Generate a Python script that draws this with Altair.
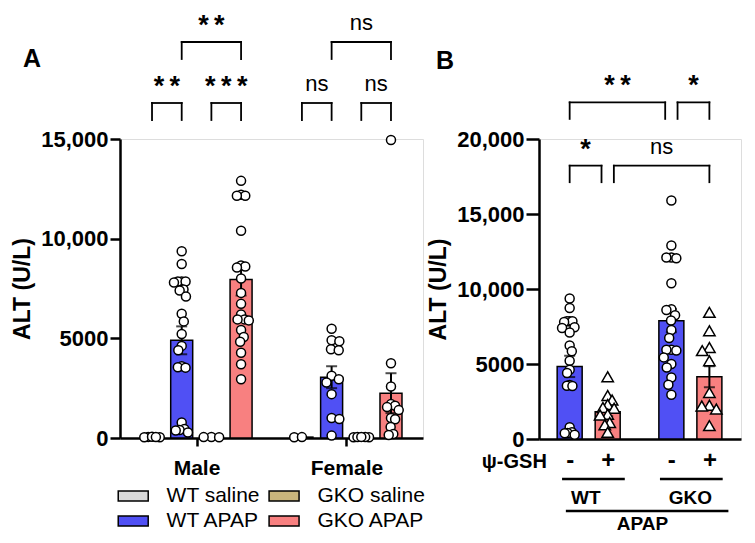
import math
import altair as alt
import pandas as pd

FONT = "Liberation Sans"

# ---------------- data ----------------
# Panel A: ALT (U/L) per animal
male_wt_saline = [55, 40, 60, 35, 45]
male_wt_apap = [9370, 8730, 7850, 7850, 7850, 7800, 7450, 7400, 7100, 6230, 5850,
                5220, 4620, 4400, 3600, 3550, 3530, 780, 450, 400, 380, 280]
male_gko_saline = [50, 40, 45]
male_gko_apap = [12900, 12200, 12150, 12150, 10400, 8650, 8600, 8550, 8000, 7280, 6730,
                 6200, 5950, 5950, 5900, 5420, 5070, 4830, 4280, 3700, 2950]
female_wt_saline = [40, 45]
female_wt_apap = [5480, 4900, 4850, 4450, 4400, 3120, 2950, 2780, 2200, 1000, 950, 120]
female_gko_saline = [40, 50, 35, 45, 55]
female_gko_apap = [14950, 3750, 2580, 1700, 1620, 1550, 1400, 1000, 940, 550, 200, 150]

a_groups = ["WT saline", "WT APAP", "GKO saline", "GKO APAP"]
a_sexes = ["Male", "Female"]
a_mean = [45, 4900, 45, 7950, 45, 3050, 45, 2250]
a_sem = [0, 700, 0, 800, 0, 550, 0, 1000]
a_points = [male_wt_saline, male_wt_apap, male_gko_saline, male_gko_apap,
            female_wt_saline, female_wt_apap, female_gko_saline, female_gko_apap]

# Panel B
b_wt_minus = [9370, 8730, 7850, 7850, 7850, 7800, 7450, 7400, 7100, 6230, 5850,
              5220, 4620, 4400, 3600, 3550, 3530, 780, 450, 400, 380, 280]
b_wt_plus = [4150, 2900, 2600, 2300, 2100, 2050, 1650, 1600, 1100, 950, 450]
b_gko_minus = [15900, 12900, 12100, 12100, 12050, 10380, 8650, 8600, 8250, 7900, 7270,
               6730, 5950, 5950, 5900, 5440, 5000, 4770, 4100, 3620, 2950]
b_gko_plus = [8440, 7220, 6100, 5890, 5220, 3100, 2250, 2200, 2000, 890]
b_geno = ["WT", "WT", "GKO", "GKO"]
b_gsh = ["-", "+", "-", "+"]
b_mean = [4840, 1820, 7890, 4150]
b_sem = [710, 300, 770, 700]
b_points = [b_wt_minus, b_wt_plus, b_gko_minus, b_gko_plus]

# significance labels
a_sig_lower = ["**", "***", "ns", "ns"]
a_sig_upper = ["**", "ns"]
b_sig_lower = ["*", "ns"]
b_sig_upper = ["**", "*"]

# ---------------- layout (category positions on a numeric axis) ----------------
A_X = [1, 2, 3, 4, 6.05, 7.05, 8.05, 9.05]
A_XDOM = [0.09, 9.96]
A_W, A_H = 303, 299
A_YDOM = [0, 15000]
B_X = [1, 2, 3.675, 4.675]
B_XDOM = [0.325, 5.375]
B_W, B_H = 202, 300
B_YDOM = [0, 20000]

COL = {"WT saline": "#D9D9D9", "GKO saline": "#C9B57C",
       "WT APAP": "#5050F4", "GKO APAP": "#F88080"}
LEG_ORDER = ["WT saline", "WT APAP", "GKO saline", "GKO APAP"]   # column-wise
THIN = "\u2009"


def swarm(values, ypx, D=9.0, maxw=8.0):
    """Deterministic beeswarm offsets in pixels."""
    n = len(values)
    order = sorted(range(n), key=lambda i: -values[i])
    placed = []
    offs = [0.0] * n
    for k, i in enumerate(order):
        y = values[i] * ypx
        cands = [0.0]
        for (px_, py_) in placed:
            dy = abs(py_ - y)
            if dy < D:
                dx = math.sqrt(D * D - dy * dy)
                cands += [px_ + dx, px_ - dx]
        cands.sort(key=lambda c: (round(abs(c), 6), c if k % 2 else -c))
        best = 0.0
        for c in cands:
            if all((c - px_) ** 2 + (y - py_) ** 2 >= D * D - 1e-6 for px_, py_ in placed):
                best = c
                break
        offs[i] = best
        placed.append((best, y))
    m = max(abs(o) for o in offs) if offs else 0
    if m > maxw:
        offs = [o * maxw / m for o in offs]
    return offs


def points_df(centers, groups, xpx, ypx):
    rows = []
    for c, vals in zip(centers, groups):
        offs = swarm(vals, ypx)
        for v, o in zip(vals, offs):
            rows.append({"x": c + o / xpx, "v": v})
    return pd.DataFrame(rows)


LABEL_EXPR = "datum.value >= 10000 ? format(datum.value, ',') : format(datum.value, 'd')"


def bracket_layers(brk, leg, XF, YF):
    h = pd.DataFrame([{"x1": a, "x2": b, "top": t} for a, b, t, _ in brk])
    legs = pd.DataFrame([{"x": xx, "top": t, "bot": t - leg} for a, b, t, _ in brk for xx in (a, b)])
    stars = pd.DataFrame([{"x": (a + b) / 2, "top": t, "lab": THIN.join(l)} for a, b, t, l in brk if l != "ns"])
    ns = pd.DataFrame([{"x": (a + b) / 2, "top": t, "lab": l} for a, b, t, l in brk if l == "ns"])
    layers = [
        alt.Chart(h).mark_rule(color="black", strokeWidth=1.8, strokeCap="square").encode(
            x=XF("x1"), x2="x2", y=YF("top")),
        alt.Chart(legs).mark_rule(color="black", strokeWidth=1.8, strokeCap="square").encode(
            x=XF("x"), y=YF("top"), y2="bot"),
        alt.Chart(stars).mark_text(font=FONT, fontSize=27, fontWeight="bold", color="black",
                                   baseline="alphabetic", dy=-8).encode(x=XF("x"), y=YF("top"), text="lab:N"),
    ]
    if len(ns):
        layers.append(alt.Chart(ns).mark_text(font=FONT, fontSize=22, color="black",
                                              baseline="alphabetic", dy=-12).encode(
            x=XF("x"), y=YF("top"), text="lab:N"))
    return layers


# ---------------- Panel A ----------------
a_xpx = A_W / (A_XDOM[1] - A_XDOM[0])
a_ypx = A_H / (A_YDOM[1] - A_YDOM[0])
a_vpp = 1 / a_ypx  # value per pixel

xsA = alt.Scale(domain=A_XDOM, nice=False, zero=False)
ysA = alt.Scale(domain=A_YDOM, nice=False, zero=False)
xaxA = alt.Axis(values=[2.5, 7.55], labelExpr="datum.value < 5 ? 'Male' : 'Female'",
                title=None, tickSize=8, tickWidth=2.5, domainWidth=2.5,
                labelFont=FONT, labelFontSize=21, labelFontWeight="bold", labelPadding=11,
                labelColor="black", domainColor="black", tickColor="black", grid=False,
                labelFlush=False, labelOverlap=False)
yaxA = alt.Axis(values=[0, 5000, 10000, 15000], labelExpr=LABEL_EXPR, title="ALT (U/L)",
                tickSize=10, tickWidth=2.5, domainWidth=2.5, labelFont=FONT,
                labelFontSize=22, labelFontWeight="bold", labelPadding=2,
                labelColor="black", domainColor="black", tickColor="black",
                titleFont=FONT, titleFontSize=23, titleFontWeight="bold", titleColor="black",
                titlePadding=6, grid=False, labelFlush=False)


def XA(f):
    return alt.X(f, type="quantitative", scale=xsA, axis=xaxA)


def YA(f):
    return alt.Y(f, type="quantitative", scale=ysA, axis=yaxA)


colorA = alt.Color("group:N", scale=alt.Scale(domain=LEG_ORDER, range=[COL[g] for g in LEG_ORDER]),
                   legend=None)

bars_a = pd.DataFrame({"x": A_X, "group": a_groups * 2, "mean": a_mean,
                       "lo": [m - s for m, s in zip(a_mean, a_sem)],
                       "hi": [m + s for m, s in zip(a_mean, a_sem)], "sem": a_sem})
err_a = bars_a[bars_a["sem"] > 0]
pts_a = points_df(A_X, a_points, a_xpx, a_ypx)

barA = alt.Chart(bars_a).mark_bar(size=22, stroke="black", strokeWidth=1.5, opacity=1).encode(
    x=XA("x"), y=YA("mean"), color=colorA)
errA = alt.Chart(err_a).mark_rule(color="black", strokeWidth=2).encode(x=XA("x"), y=YA("lo"), y2="hi")
capA_hi = alt.Chart(err_a).mark_tick(color="black", orient="horizontal", size=11, thickness=2).encode(
    x=XA("x"), y=YA("hi"))
capA_lo = alt.Chart(err_a).mark_tick(color="black", orient="horizontal", size=11, thickness=2).encode(
    x=XA("x"), y=YA("lo"))
ptsA = alt.Chart(pts_a).mark_point(shape="circle", filled=True, fill="white", stroke="black",
                                   strokeWidth=1.5, size=81, opacity=1).encode(x=XA("x"), y=YA("v"))

a_low_top = (439 - 104) * a_vpp
a_up_top = (439 - 43) * a_vpp
leg_a = 17 * a_vpp
a_brk = [
    (A_X[0], A_X[1], a_low_top, a_sig_lower[0]),
    (A_X[2], A_X[3], a_low_top, a_sig_lower[1]),
    (A_X[4], A_X[5], a_low_top, a_sig_lower[2]),
    (A_X[6], A_X[7], a_low_top, a_sig_lower[3]),
    (A_X[1], A_X[3], a_up_top, a_sig_upper[0]),
    (A_X[5], A_X[7], a_up_top, a_sig_upper[1]),
]

# legend (drawn as marks below panel A): 2 columns x 2 rows
leg_rows = []
for k, g in enumerate(LEG_ORDER):
    col, row = k // 2, k % 2
    left_px = -7 + col * 156
    mid_px = 58 + row * 25
    leg_rows.append({"group": g,
                     "x1": A_XDOM[0] + left_px / a_xpx, "x2": A_XDOM[0] + (left_px + 31) / a_xpx,
                     "y1": -(mid_px - 5) * a_vpp, "y2": -(mid_px + 5) * a_vpp,
                     "tx": A_XDOM[0] + (left_px + 50) / a_xpx, "ty": -mid_px * a_vpp})
leg_df = pd.DataFrame(leg_rows)
legRect = alt.Chart(leg_df).mark_rect(stroke="black", strokeWidth=1.5, opacity=1).encode(
    x=XA("x1"), x2="x2", y=YA("y1"), y2="y2", color=colorA)
legText = alt.Chart(leg_df).mark_text(font=FONT, fontSize=21, color="black", align="left",
                                      baseline="middle").encode(x=XA("tx"), y=YA("ty"), text="group:N")

letterA = alt.Chart(pd.DataFrame({"x": [A_X[0] + (23 - 147) / a_xpx], "y": [(439 - 68) * a_vpp],
                                  "t": ["A"]})).mark_text(
    font=FONT, fontSize=25, fontWeight="bold", color="black", baseline="alphabetic").encode(
    x=XA("x"), y=YA("y"), text="t:N")

chartA = alt.layer(barA, errA, capA_hi, capA_lo, ptsA,
                   *bracket_layers(a_brk, leg_a, XA, YA), legRect, legText, letterA
                   ).properties(width=A_W, height=A_H)

# ---------------- Panel B ----------------
b_xpx = B_W / (B_XDOM[1] - B_XDOM[0])
b_ypx = B_H / (B_YDOM[1] - B_YDOM[0])
b_vpp = 1 / b_ypx

xsB = alt.Scale(domain=B_XDOM, nice=False, zero=False)
ysB = alt.Scale(domain=B_YDOM, nice=False, zero=False)
xaxB = alt.Axis(values=B_X,
                labelExpr="(datum.value < 1.5 || (datum.value > 3 && datum.value < 4)) ? '-' : '+'",
                title=None, ticks=False, tickSize=0, domainWidth=2.5, labelFont=FONT,
                labelFontSize=24, labelFontWeight="bold", labelPadding=21, labelBaseline="middle",
                labelColor="black", domainColor="black", grid=False, labelFlush=False,
                labelOverlap=False)
yaxB = alt.Axis(values=[0, 5000, 10000, 15000, 20000], labelExpr=LABEL_EXPR, title="ALT (U/L)",
                tickSize=13, tickWidth=2.5, domainWidth=2.5, labelFont=FONT,
                labelFontSize=22, labelFontWeight="bold", labelPadding=2,
                labelColor="black", domainColor="black", tickColor="black",
                titleFont=FONT, titleFontSize=23, titleFontWeight="bold", titleColor="black",
                titlePadding=6, grid=False, labelFlush=False)


def XB(f):
    return alt.X(f, type="quantitative", scale=xsB, axis=xaxB)


def YB(f):
    return alt.Y(f, type="quantitative", scale=ysB, axis=yaxB)


bars_b = pd.DataFrame({"x": B_X, "geno": b_geno, "gsh": b_gsh, "mean": b_mean,
                       "lo": [m - s for m, s in zip(b_mean, b_sem)],
                       "hi": [m + s for m, s in zip(b_mean, b_sem)]})
pts_b = points_df(B_X, b_points, b_xpx, b_ypx)
pts_b["gsh"] = [g for g, vals in zip(b_gsh, b_points) for _ in vals]

barB = alt.Chart(bars_b).mark_bar(size=25, stroke="black", strokeWidth=1.5, opacity=1).encode(
    x=XB("x"), y=YB("mean"),
    color=alt.Color("gsh:N", scale=alt.Scale(domain=["-", "+"], range=[COL["WT APAP"], COL["GKO APAP"]]),
                    legend=None))
errB = alt.Chart(bars_b).mark_rule(color="black", strokeWidth=2).encode(x=XB("x"), y=YB("lo"), y2="hi")
capB_hi = alt.Chart(bars_b).mark_tick(color="black", orient="horizontal", size=11, thickness=2).encode(
    x=XB("x"), y=YB("hi"))
capB_lo = alt.Chart(bars_b).mark_tick(color="black", orient="horizontal", size=11, thickness=2).encode(
    x=XB("x"), y=YB("lo"))
circB = alt.Chart(pts_b[pts_b["gsh"] == "-"]).mark_point(
    shape="circle", filled=True, fill="white", stroke="black", strokeWidth=1.5, size=81, opacity=1).encode(
    x=XB("x"), y=YB("v"))
triB = alt.Chart(pts_b[pts_b["gsh"] == "+"]).mark_point(
    shape="triangle-up", filled=True, fill="white", stroke="black", strokeWidth=1.5, size=130, opacity=1).encode(
    x=XB("x"), y=YB("v"))

b_low_top = (438.3 - 165) * b_vpp
b_up_top = (438.3 - 101.7) * b_vpp
leg_b = 16.5 * b_vpp
ins = 6.5 / b_xpx
b_brk = [
    (B_X[0], B_X[1] - ins, b_low_top, b_sig_lower[0]),
    (B_X[1] + ins, B_X[3], b_low_top, b_sig_lower[1]),
    (B_X[0], B_X[2] - ins, b_up_top, b_sig_upper[0]),
    (B_X[2] + ins, B_X[3], b_up_top, b_sig_upper[1]),
]

# bottom annotations for panel B
b_lines = pd.DataFrame({
    "x1": [B_X[0] - 8 / b_xpx, B_X[2] - 12 / b_xpx, B_X[0] - 4 / b_xpx],
    "x2": [B_X[1] + 18 / b_xpx, B_X[3] + 14 / b_xpx, B_X[3] + 20 / b_xpx],
    "y": [-40 * b_vpp, -40 * b_vpp, -72 * b_vpp]})
b_texts = pd.DataFrame({
    "x": [B_X[0] - 24 / b_xpx, (B_X[0] + B_X[1]) / 2 - 3 / b_xpx, (B_X[2] + B_X[3]) / 2,
          (B_X[0] + B_X[3]) / 2 + 3 / b_xpx],
    "y": [-23 * b_vpp, -59 * b_vpp, -59 * b_vpp, -85 * b_vpp],
    "t": ["\u03c8-GSH", "WT", "GKO", "APAP"],
    "a": ["right", "center", "center", "center"]})

linesB = alt.Chart(b_lines).mark_rule(color="black", strokeWidth=2.5).encode(x=XB("x1"), x2="x2", y=YB("y"))
txtB_r = alt.Chart(b_texts[b_texts["a"] == "right"]).mark_text(
    font=FONT, fontSize=20, fontWeight="bold", color="black", align="right", baseline="middle").encode(
    x=XB("x"), y=YB("y"), text="t:N")
txtB_c = alt.Chart(b_texts[b_texts["a"] == "center"]).mark_text(
    font=FONT, fontSize=19, fontWeight="bold", color="black", align="center", baseline="middle").encode(
    x=XB("x"), y=YB("y"), text="t:N")

letterB = alt.Chart(pd.DataFrame({"x": [B_X[0] + (441 - 572) / b_xpx], "y": [(438.3 - 68) * b_vpp],
                                  "t": ["B"]})).mark_text(
    font=FONT, fontSize=25, fontWeight="bold", color="black", baseline="alphabetic").encode(
    x=XB("x"), y=YB("y"), text="t:N")

chartB = alt.layer(barB, errB, capB_hi, capB_lo, circB, triB,
                   *bracket_layers(b_brk, leg_b, XB, YB), linesB, txtB_r, txtB_c, letterB
                   ).properties(width=B_W, height=B_H)

chart = alt.hconcat(chartA, chartB, spacing=1).resolve_scale(
    color="independent", x="independent", y="independent").properties(
    padding={"left": 3, "top": 3, "right": 0, "bottom": -2}
).configure_view(stroke=None).configure(background="white")

chart.save("out.html", embed_options={"renderer": "svg", "actions": False})
